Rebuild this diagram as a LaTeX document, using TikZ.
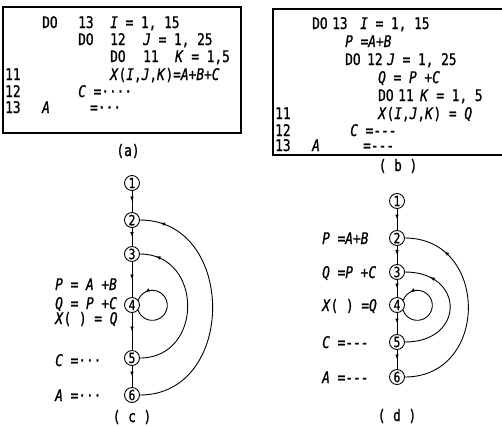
\documentclass[tikz,border=0pt]{standalone}
\usepackage{fontspec}
\setmainfont{DejaVu Sans Mono}[FakeStretch=0.8, FakeBold=1]
\usetikzlibrary{positioning, arrows.meta, decorations.markings}

\begin{document}
\begin{tikzpicture}[
    x=1pt, y=1pt,
    font=\fontsize{16}{16}\selectfont,
    code/.style={
        anchor=base west,
        inner sep=0pt
    },
    caption/.style={
        anchor=base,
        inner sep=0pt
    },
    vtx/.style={
        circle,
        draw,
        line width=0.9pt,
        minimum size=15pt,
        inner sep=0pt,
        font=\fontsize{14}{14}\selectfont
    },
    flow/.style={
        line width=0.9pt,
        postaction={decorate},
        decoration={markings,
            mark=at position 0.5 with {\arrow{Latex[length=5pt,width=3.6pt]}}}
    },
    back/.style={
        line width=0.9pt,
        postaction={decorate},
        decoration={markings,
            mark=at position #1 with {\arrow{Latex[length=5pt,width=3.6pt]}}}
    }
]
\useasboundingbox (0,0) rectangle (502,-426);

% Program (a)

\draw[line width=1.5pt] (3,-7) rectangle (241,-133);

\node[code] (a1do) at (42,-28) {DO};
\node[code] (a1nr) at (78,-28) {13};
\node[code] (a1rg) at (110,-28) {\textit{I} = 1, 15};

\node[code] (a2do) at (78,-45) {DO};
\node[code] (a2nr) at (110,-45) {12};
\node[code] (a2rg) at (143,-45) {\textit{J} = 1, 25};

\node[code] (a3do) at (110,-62) {DO};
\node[code] (a3nr) at (143,-62) {11};
\node[code] (a3rg) at (175,-62) {\textit{K} = 1,5};

\node[code] (a4nr) at (5,-80) {11};
\node[code] (a4st) at (110,-80) {\textit{X}(\textit{I},\textit{J},\textit{K})=\textit{A}+\textit{B}+\textit{C}};

\node[code] (a5nr) at (5,-97) {12};
\node[code] (a5st) at (78,-97) {\textit{C} =····};

\node[code] (a6nr) at (5,-113) {13};
\node[code] (a6va) at (42,-113) {\textit{A}};
\node[code] (a6st) at (90,-113) {=···};

\node[caption] (capa) at (128,-156) {(a)};

% Program (b)

\draw[line width=1.5pt] (502,-9) -- (273,-9) -- (273,-155) -- (502,-155);

\node[code] (b1do) at (312,-29) {DO};
\node[code] (b1nr) at (332,-29) {13};
\node[code] (b1rg) at (360,-29) {\textit{I} = 1, 15};

\node[code] (b2st) at (345,-47) {\textit{P} =\textit{A}+\textit{B}};

\node[code] (b3do) at (345,-65) {DO};
\node[code] (b3nr) at (367,-65) {12};
\node[code] (b3rg) at (387,-65) {\textit{J} = 1, 25};

\node[code] (b4st) at (378,-83) {\textit{Q} = \textit{P} +\textit{C}};

\node[code] (b5do) at (378,-101) {DO};
\node[code] (b5nr) at (398,-101) {11};
\node[code] (b5rg) at (420,-101) {\textit{K} = 1, 5};

\node[code] (b6nr) at (275,-119) {11};
\node[code] (b6st) at (378,-119) {\textit{X}(\textit{I},\textit{J},\textit{K}) = \textit{Q}};

\node[code] (b7nr) at (275,-136) {12};
\node[code] (b7st) at (350,-136) {\textit{C} =-{}-{}-};

\node[code] (b8nr) at (275,-151) {13};
\node[code] (b8va) at (312,-151) {\textit{A}};
\node[code] (b8st) at (363,-151) {=-{}-{}-};

\node[caption] (capb) at (398,-171) {( b )};

% Graph (c)

\node[vtx] (c1) at (132,-183) {1};
\node[vtx] (c2) at (132,-220) {2};
\node[vtx] (c3) at (132,-254) {3};
\node[vtx] (c4) at (132,-305) {4};
\node[vtx] (c5) at (132,-358) {5};
\node[vtx] (c6) at (132,-395) {6};

\node[code] (c4la) at (55,-290) {\textit{P} = \textit{A} +\textit{B}};
\node[code] (c4lb) at (55,-309) {\textit{Q} = \textit{P} +\textit{C}};
\node[code] (c4lc) at (55,-324) {\textit{X}(  ) = \textit{Q}};
\node[code] (c5l) at (55,-366) {\textit{C} =···};
\node[code] (c6l) at (55,-401) {\textit{A} =···};

\draw[flow] (c1) -- (c2);
\draw[flow] (c2) -- (c3);
\draw[flow] (c3) -- (c4);
\draw[flow] (c4) -- (c5);
\draw[flow] (c5) -- (c6);

\draw[back=0.87] (c4.-40) arc[start angle=-161.4, end angle=161.4, radius=15];
\draw[back=0.9] (c5) to[out=0, in=0, looseness=1.57] (c3);
\draw[back=0.92] (c6) to[out=0, in=0, looseness=1.42] (c2);

\node[caption] (capc) at (132,-422) {( c )};

% Graph (d)

\node[vtx] (d1) at (397,-201) {1};
\node[vtx] (d2) at (397,-238) {2};
\node[vtx] (d3) at (397,-272) {3};
\node[vtx] (d4) at (397,-305) {4};
\node[vtx] (d5) at (397,-342) {5};
\node[vtx] (d6) at (397,-377) {6};

\node[code] (d2l) at (322,-244) {\textit{P} =\textit{A}+\textit{B}};
\node[code] (d3l) at (322,-278) {\textit{Q} =\textit{P} +\textit{C}};
\node[code] (d4l) at (322,-311) {\textit{X}(  ) =\textit{Q}};
\node[code] (d5l) at (322,-348) {\textit{C} =-{}-{}-};
\node[code] (d6l) at (322,-383) {\textit{A} =-{}-{}-};

\draw[flow] (d1) -- (d2);
\draw[flow] (d2) -- (d3);
\draw[flow] (d3) -- (d4);
\draw[flow] (d4) -- (d5);
\draw[flow] (d5) -- (d6);

\draw[back=0.87] (d4.-40) arc[start angle=-161.4, end angle=161.4, radius=15];
\draw[back=0.8] (d5) to[out=0, in=0, looseness=2.21] (d3);
\draw[back=0.8] (d6) to[out=0, in=0, looseness=1.56] (d2);

\node[caption] (capd) at (397,-421) {( d )};

\end{tikzpicture}
\end{document}
